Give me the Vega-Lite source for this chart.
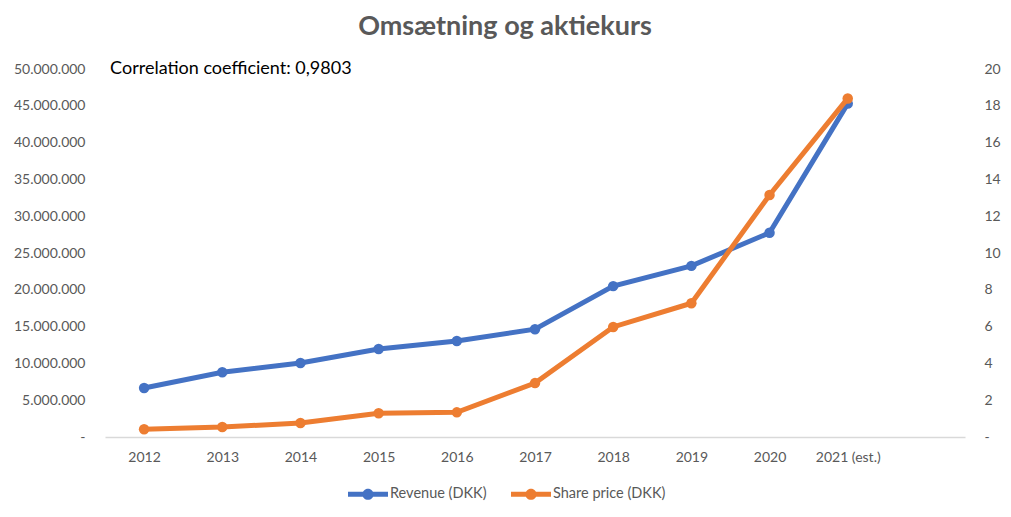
{
  "$schema": "https://vega.github.io/schema/vega-lite/v6.json",
  "autosize": "none",
  "width": 860,
  "height": 368,
  "padding": {"left": 105, "top": 69, "right": 46, "bottom": 80},
  "background": "white",
  "title": {
    "text": "Omsætning og aktiekurs",
    "font": "Lato",
    "fontSize": 27,
    "fontWeight": "bold",
    "color": "#595959",
    "anchor": "middle",
    "dx": -30,
    "offset": 19
  },
  "config": {
    "view": {"stroke": null},
    "font": "Lato"
  },
  "data": {
    "values": [
      {"year": "2012", "revenue": 6650000, "share": 0.42},
      {"year": "2013", "revenue": 8800000, "share": 0.54},
      {"year": "2014", "revenue": 10050000, "share": 0.76},
      {"year": "2015", "revenue": 11950000, "share": 1.29},
      {"year": "2016", "revenue": 13050000, "share": 1.34},
      {"year": "2017", "revenue": 14650000, "share": 2.93},
      {"year": "2018", "revenue": 20500000, "share": 5.98},
      {"year": "2019", "revenue": 23250000, "share": 7.27},
      {"year": "2020", "revenue": 27750000, "share": 13.15},
      {"year": "2021 (est.)", "revenue": 45300000, "share": 18.4}
    ]
  },
  "encoding": {
    "x": {
      "field": "year",
      "type": "ordinal",
      "scale": {"type": "point", "padding": 0.5, "domain": ["2012","2013","2014","2015","2016","2017","2018","2019","2020","2021 (est.)"," "]},
      "axis": {
        "title": null,
        "labelAngle": 0,
        "labelFont": "Lato",
        "labelFontSize": 14,
        "labelColor": "#595959",
        "labelPadding": 13,
        "ticks": false,
        "grid": false,
        "domain": true,
        "domainColor": "#D9D9D9",
        "domainWidth": 1.5
      }
    }
  },
  "layer": [
    {
      "mark": {"type": "line", "strokeWidth": 5, "point": {"filled": true, "size": 110}},
      "encoding": {
        "y": {
          "field": "revenue",
          "type": "quantitative",
          "scale": {"domain": [0, 50000000]},
          "axis": {
            "orient": "left",
            "title": null,
            "values": [0,5000000,10000000,15000000,20000000,25000000,30000000,35000000,40000000,45000000,50000000],
            "labelExpr": "datum.value == 0 ? '-' : replace(format(datum.value, ','), regexp(',', 'g'), '.')",
            "labelFont": "Lato",
            "labelFontSize": 14,
            "labelColor": "#595959",
            "labelPadding": 20,
            "ticks": false,
            "grid": false,
            "domain": false
          }
        },
        "color": {
          "datum": "Revenue (DKK)",
          "type": "nominal",
          "scale": {"domain": ["Revenue (DKK)", "Share price (DKK)"], "range": ["#4472C4", "#ED7D31"]},
          "legend": {
            "title": null,
            "orient": "none",
            "direction": "horizontal",
            "legendX": 243,
            "legendY": 405,
            "symbolType": "M-1,-0.12L1,-0.12L1,0.12L-1,0.12Z M-0.28,0A0.28,0.28 0 1,1 0.28,0A0.28,0.28 0 1,1 -0.28,0Z",
            "symbolSize": 1600,
            "symbolStrokeWidth": 0,
            "labelFont": "Lato",
            "labelFontSize": 14.5,
            "labelColor": "#595959",
            "labelOffset": 2,
            "columnPadding": 24,
            "encode": {
              "symbols": {
                "update": {
                  "fill": {"scale": "color", "field": "value"},
                  "strokeWidth": {"value": 0},
                  "opacity": {"value": 1}
                }
              }
            }
          }
        }
      }
    },
    {
      "mark": {"type": "line", "strokeWidth": 5, "point": {"filled": true, "size": 110}},
      "encoding": {
        "y": {
          "field": "share",
          "type": "quantitative",
          "scale": {"domain": [0, 20]},
          "axis": {
            "orient": "right",
            "title": null,
            "values": [0,2,4,6,8,10,12,14,16,18,20],
            "labelExpr": "datum.value == 0 ? '-' : datum.label",
            "labelFont": "Lato",
            "labelFontSize": 14,
            "labelColor": "#595959",
            "labelPadding": 19,
            "ticks": false,
            "grid": false,
            "domain": false
          }
        },
        "color": {"datum": "Share price (DKK)", "type": "nominal"}
      }
    },
    {
      "data": {"values": [{"label": "Correlation coefficient: 0,9803", "year": "2012", "level": 50000000}]},
      "mark": {"type": "text", "align": "left", "baseline": "middle", "dx": -34, "font": "Lato", "fontSize": 18, "color": "#000000"},
      "encoding": {
        "x": {"field": "year", "type": "ordinal"},
        "y": {"field": "level", "type": "quantitative", "scale": {"domain": [0, 50000000]}, "axis": null},
        "text": {"field": "label"}
      }
    }
  ],
  "resolve": {"scale": {"y": "independent"}}
}
